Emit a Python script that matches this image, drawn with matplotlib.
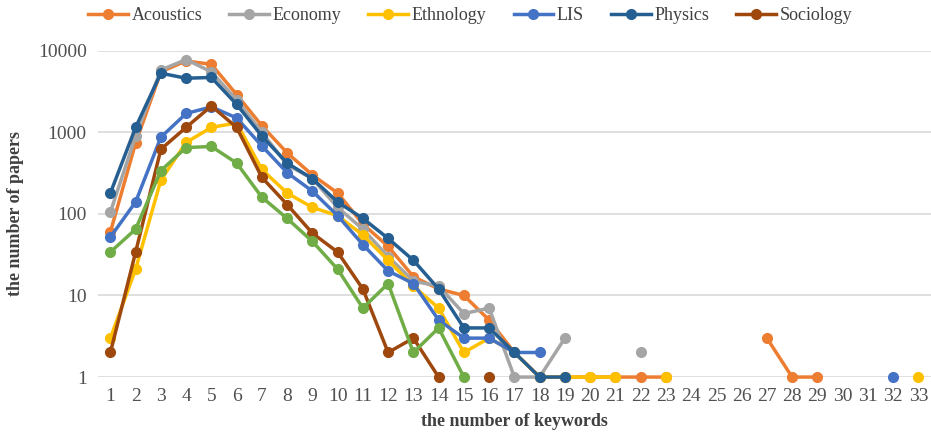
import matplotlib
matplotlib.use('Agg')
import matplotlib.pyplot as plt
import numpy as np

plt.rcParams['font.family'] = ['Liberation Serif', 'DejaVu Serif']

keywords = list(range(1, 34))

# None = no value for that keyword count
acoustics = [60, 740, 5500, 7500, 6800, 2900, 1200, 560, 300, 180, 75, 40, 17, 12, 10, 5, 2, 1, 1, 1, 1, 1, 1,
             None, None, None, 3, 1, 1, None, None, None, None]
economy = [105, 900, 5800, 7800, 5500, 2500, 1000, 400, 270, 120, 65, 30, 15, 13, 6, 7, 1, 1, 3, None, None, 2, None,
           None, None, None, None, None, None, None, None, None, None]
ethnology = [3, 21, 260, 750, 1150, 1300, 350, 180, 120, 95, 55, 27, 13, 7, 2, 3, 2, 1, 1, 1, 1, None, 1,
             None, None, None, None, None, None, None, None, None, 1]
lis = [52, 140, 870, 1700, 2050, 1500, 680, 320, 190, 95, 42, 20, 14, 5, 3, 3, 2, 2, None, None, None, None, None,
       None, None, None, None, None, None, None, None, 1, None]
physics = [180, 1150, 5300, 4600, 4700, 2200, 900, 420, 270, 140, 88, 50, 27, 12, 4, 4, 2, 1, 1, None, None, None, None,
           None, None, None, None, None, None, None, None, None, None]
sociology = [2, 34, 620, 1150, 2100, 1150, 280, 130, 58, 34, 12, 2, 3, 1, None, 1, None, None, None, None, None, None, None,
             None, None, None, None, None, None, None, None, None, None]
other = [34, 65, 340, 650, 670, 420, 160, 88, 46, 21, 7, 14, 2, 4, 1, None, None, None, None, None, None, None, None,
         None, None, None, None, None, None, None, None, None, None]

series = [
    ("Acoustics", acoustics, "#ED7D31"),
    ("Economy", economy, "#A5A5A5"),
    ("Ethnology", ethnology, "#FFC000"),
    ("LIS", lis, "#4472C4"),
    ("Physics", physics, "#255E91"),
    ("Sociology", sociology, "#9E480E"),
    (None, other, "#70AD47"),
]

fig = plt.figure(figsize=(9.31, 4.41), dpi=100)
ax = fig.add_axes([0.105, 0.145, 0.895, 0.74])

for name, vals, col in series:
    y = np.array([np.nan if v is None else v for v in vals], dtype=float)
    ax.plot(keywords, y, color=col, lw=2.5, marker='o', markersize=7,
            label=name if name else '_nolegend_', zorder=3, clip_on=False)

ax.set_yscale('log')
ax.set_ylim(1, 10000)
ax.set_xlim(0.5, 33.5)
ax.set_xticks(keywords)
ax.set_yticks([1, 10, 100, 1000, 10000])
ax.set_yticklabels(['1', '10', '100', '1000', '10000'])
ax.minorticks_off()
ax.tick_params(axis='both', length=0, labelsize=14, colors='#505050', pad=8)
ax.grid(axis='y', color='#D9D9D9', lw=1.2)
for s in ax.spines.values():
    s.set_visible(False)

ax.set_xlabel('the number of keywords', fontsize=13, fontweight='bold', color='#404040', labelpad=6)
ax.set_ylabel('the number of papers', fontsize=13, fontweight='bold', color='#404040', labelpad=10)

fig.legend(*ax.get_legend_handles_labels(), loc='center', bbox_to_anchor=(0.505, 0.965),
           bbox_transform=fig.transFigure, ncol=6, frameon=False,
           fontsize=13, handlelength=2.2, columnspacing=1.5, handletextpad=0.2,
           labelcolor='#404040')

fig.savefig('out.png', dpi=100)
